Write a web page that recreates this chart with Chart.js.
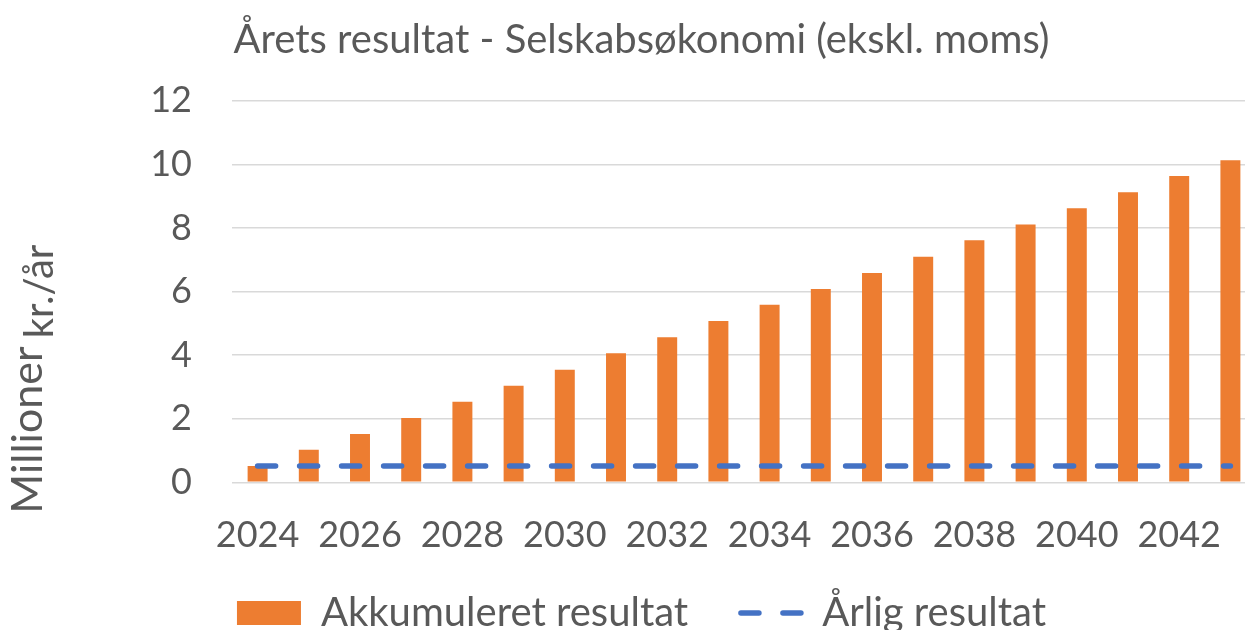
<!DOCTYPE html>
<html>
<head>
<meta charset="utf-8">
<script src="https://cdn.jsdelivr.net/npm/chart.js@4"></script>
<style>
  html, body { margin: 0; padding: 0; overflow: hidden; background: #ffffff; }
  #wrap { width: 1283px; height: 630px; }
</style>
</head>
<body>
<div id="wrap"><canvas id="c" width="1283" height="630"></canvas></div>
<script>
const years = ['2024','2025','2026','2027','2028','2029','2030','2031','2032','2033','2034','2035','2036','2037','2038','2039','2040','2041','2042','2043'];
const akkumuleret = [0.51, 1.02, 1.52, 2.02, 2.53, 3.04, 3.54, 4.06, 4.56, 5.07, 5.58, 6.08, 6.58, 7.09, 7.61, 8.11, 8.62, 9.12, 9.63, 10.13];
const aarlig = [0.51, 0.51, 0.51, 0.51, 0.51, 0.51, 0.51, 0.51, 0.51, 0.51, 0.51, 0.51, 0.51, 0.51, 0.51, 0.51, 0.51, 0.51, 0.51, 0.51];
const yTicks = [0, 2, 4, 6, 8, 10, 12];
const titleText = 'Årets resultat - Selskabsøkonomi (ekskl. moms)';
const yTitle = 'kr./år';
const unitLabel = 'Millioner';
const seriesNames = ['Akkumuleret resultat', 'Årlig resultat'];

const FONT = 'Lato, "Open Sans", sans-serif';
const TXT = '#595959';
const LINE_DASH = [18, 24];

const unitPlugin = {
  id: 'unitLabel',
  afterDraw(chart) {
    const ctx = chart.ctx;
    ctx.save();
    ctx.translate(28, 430);
    ctx.rotate(-Math.PI / 2);
    ctx.font = '43px ' + FONT;
    ctx.fillStyle = TXT;
    ctx.textAlign = 'center';
    ctx.textBaseline = 'middle';
    ctx.fillText(unitLabel, 0, 0);
    ctx.restore();
  }
};

new Chart(document.getElementById('c'), {
  data: {
    labels: years,
    datasets: [
      {
        type: 'bar',
        label: seriesNames[0],
        data: akkumuleret,
        backgroundColor: '#ED7D31',
        barPercentage: 0.39,
        categoryPercentage: 1.0,
        order: 1
      },
      {
        type: 'line',
        label: seriesNames[1],
        data: aarlig,
        borderColor: '#4472C4',
        backgroundColor: '#4472C4',
        borderWidth: 5.5,
        borderDash: LINE_DASH,
        borderCapStyle: 'round',
        pointRadius: 0,
        fill: false,
        order: 0
      }
    ]
  },
  options: {
    responsive: false,
    animation: false,
    layout: { padding: { left: 0, right: 0, top: 0, bottom: -13 } },
    plugins: {
      tooltip: { enabled: false },
      title: {
        display: true,
        text: titleText,
        color: TXT,
        font: { family: FONT, size: 40, weight: 'normal' },
        padding: { top: 16, bottom: 36.7 }
      },
      legend: {
        position: 'bottom',
        labels: {
          usePointStyle: true,
          pointStyleWidth: 64,
          boxHeight: 24,
          padding: 50,
          color: TXT,
          font: { family: FONT, size: 40 },
          sort: (a, b) => a.datasetIndex - b.datasetIndex,
          generateLabels(chart) {
            const items = Chart.defaults.plugins.legend.labels.generateLabels(chart);
            items.forEach(it => {
              if (it.datasetIndex === 0) {
                it.pointStyle = 'rect';
                it.lineWidth = 0;
                it.strokeStyle = 'rgba(0,0,0,0)';
                it.fillStyle = '#ED7D31';
              } else {
                it.pointStyle = 'line';
                it.lineWidth = 5.5;
                it.lineCap = 'round';
                it.lineDash = LINE_DASH;
                it.lineDashOffset = -2.75;
                it.strokeStyle = '#4472C4';
              }
            });
            return items;
          }
        }
      }
    },
    scales: {
      x: {
        grid: { display: false },
        border: { display: false },
        ticks: {
          autoSkip: false,
          maxRotation: 0,
          minRotation: 0,
          padding: 23,
          color: TXT,
          font: { family: FONT, size: 36 },
          callback: function (v, i) { return i % 2 === 0 ? this.getLabelForValue(v) : ''; }
        },
        afterFit: s => { s.height = 60.7; s._computeLabelArea = () => undefined; }
      },
      y: {
        min: 0,
        max: 12,
        afterBuildTicks: s => { s.ticks = yTicks.map(v => ({ value: v })); },
        grid: { color: '#D9D9D9', lineWidth: 1.5, drawTicks: false },
        border: { display: false },
        ticks: {
          padding: 40,
          color: TXT,
          font: { family: FONT, size: 36 }
        },
        title: {
          display: true,
          text: yTitle,
          color: TXT,
          font: { family: FONT, size: 40 },
          padding: { top: 16, bottom: 0 }
        },
        afterFit: s => { s.width = 232; }
      },
      y2: {
        position: 'right',
        display: true,
        grid: { display: false },
        border: { display: false },
        ticks: { display: false },
        afterFit: s => { s.width = 27; }
      }
    }
  },
  plugins: [unitPlugin]
});
</script>
</body>
</html>
